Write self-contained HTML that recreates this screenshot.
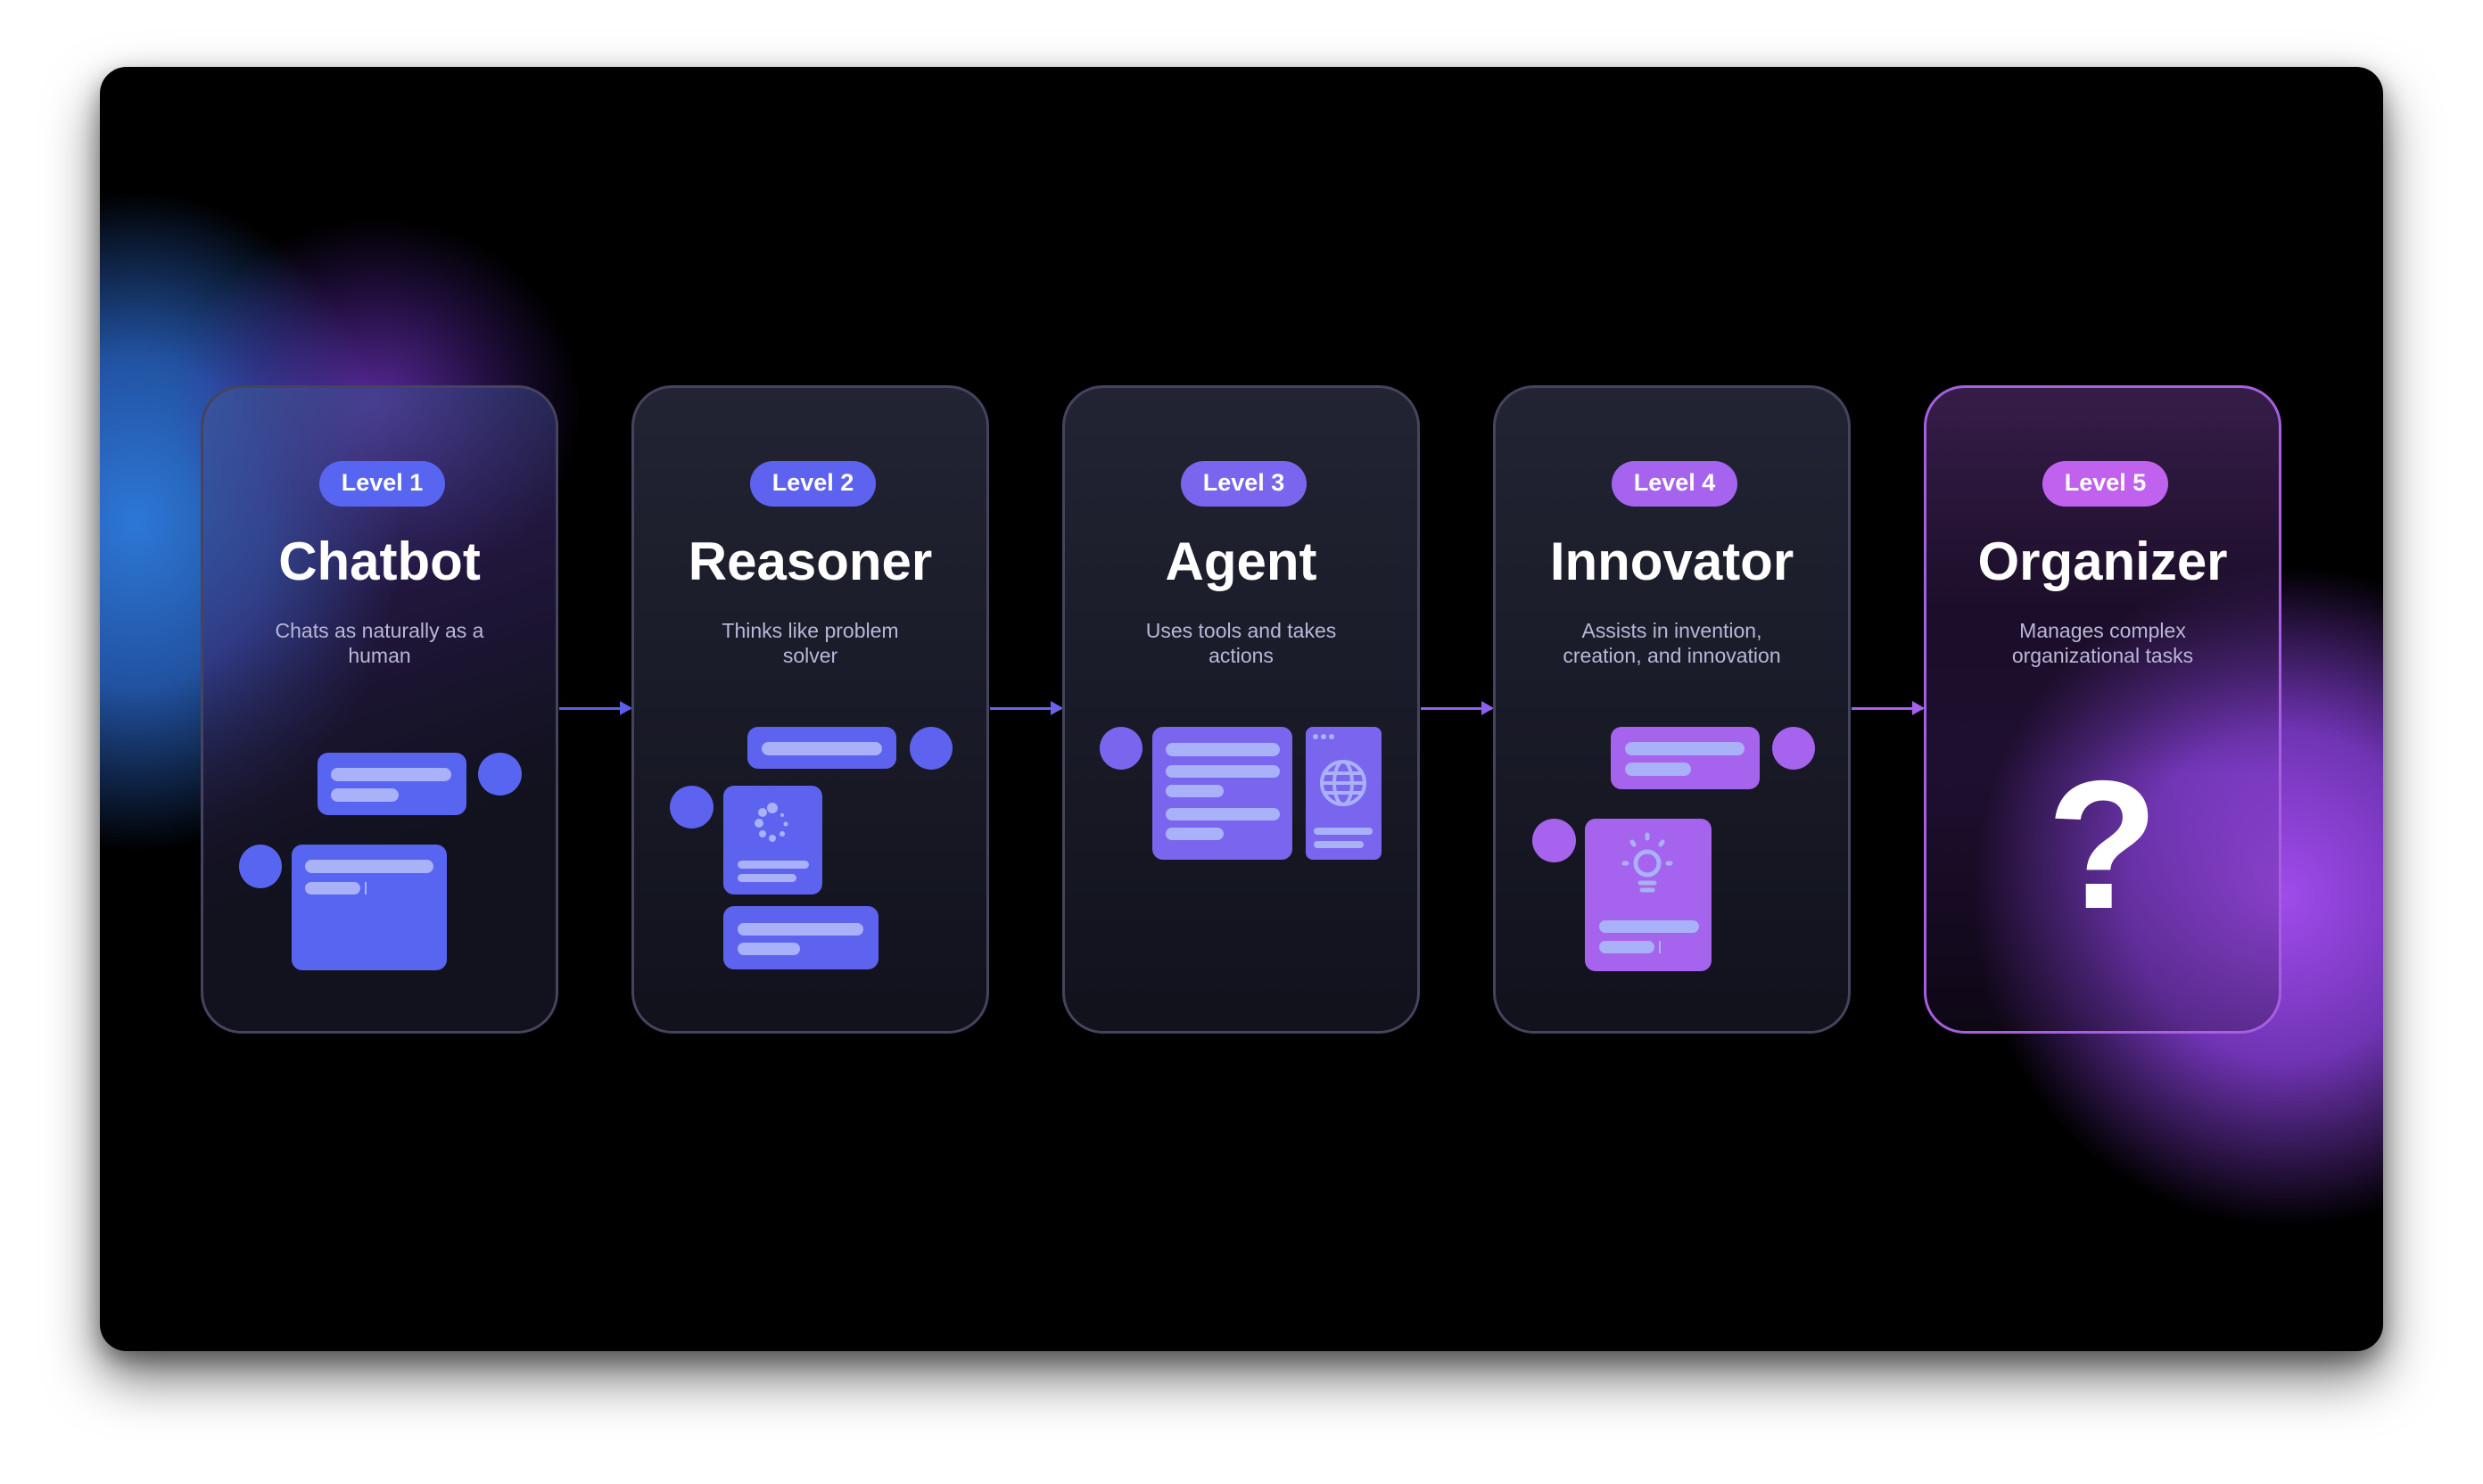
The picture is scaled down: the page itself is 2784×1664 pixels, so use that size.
<!DOCTYPE html>
<html><head><meta charset="utf-8"><style>
*{margin:0;padding:0;box-sizing:border-box}
body{width:2784px;height:1664px;background:#fff;position:relative;overflow:hidden;font-family:"Liberation Sans",sans-serif}
#panel{position:absolute;left:112px;top:75px;width:2560px;height:1440px;background:#000;border-radius:30px;overflow:hidden;box-shadow:0 30px 60px rgba(0,0,0,.55),0 10px 25px rgba(0,0,0,.35)}
.glow{position:absolute;border-radius:50%}
.a{position:absolute}
.card{position:absolute;top:432px;width:401px;height:727px;border-radius:46px;border:3px solid #45435e;background:linear-gradient(180deg,rgba(40,42,60,.85),rgba(18,19,30,.92));}
.pill{position:absolute;top:82px;left:130px;width:141px;height:51px;border-radius:26px;color:#fff;font-weight:bold;font-size:27px;text-align:center;line-height:49px}
.title{position:absolute;top:160px;left:0;width:100%;text-align:center;color:#fff;font-weight:bold;font-size:60px;letter-spacing:0px}
.desc{position:absolute;top:258px;left:0;width:100%;text-align:center;color:#b9b7d8;font-size:23px;line-height:28px}
.arrow{position:absolute;top:793px;height:3px}
.arrow:after{content:"";position:absolute;right:-2px;top:-7px;border-left:14px solid;border-left-color:inherit;border-top:8px solid transparent;border-bottom:8px solid transparent}
.r{position:absolute;border-radius:12px}
.b{position:absolute;background:#a9b1f8;border-radius:8px}
.c{position:absolute;border-radius:50%}
</style></head><body>
<div id="panel">
 <div class="glow" style="left:-260px;top:140px;width:600px;height:740px;background:radial-gradient(closest-side,rgba(45,120,215,1),rgba(45,110,215,.75) 50%,rgba(40,80,200,0) 100%)"></div>
 <div class="glow" style="left:80px;top:170px;width:460px;height:420px;background:radial-gradient(closest-side,rgba(110,50,190,.8),rgba(90,40,170,.35) 60%,rgba(0,0,0,0))"></div>
 <div class="glow" style="left:2100px;top:560px;width:700px;height:740px;background:radial-gradient(closest-side,rgba(160,75,235,1),rgba(140,65,225,.8) 50%,rgba(90,40,170,0) 100%)"></div>
</div>
<div class="arrow" style="left:627px;width:80px;background:#5a5ee8;border-color:#5a5ee8"></div>
<div class="arrow" style="left:1110px;width:80px;background:#6d62ee;border-color:#6d62ee"></div>
<div class="arrow" style="left:1593px;width:80px;background:#8a62ee;border-color:#8a62ee"></div>
<div class="arrow" style="left:2076px;width:80px;background:#a960ee;border-color:#a960ee"></div>

<div class="card" style="left:225px;background:linear-gradient(160deg,rgba(60,90,150,.6),rgba(60,40,110,.55) 35%,rgba(20,20,35,.9) 65%,rgba(18,19,30,.95))">
 <div class="pill" style="background:#5865f0">Level 1</div>
 <div class="title">Chatbot</div>
 <div class="desc">Chats as naturally as a<br>human</div>
</div>
<div class="r" style="left:356px;top:844px;width:167px;height:70px;background:#5865f0"></div>
<div class="b" style="left:371px;top:861px;width:135px;height:15px"></div>
<div class="b" style="left:371px;top:884px;width:76px;height:15px"></div>
<div class="c" style="left:536px;top:844px;width:49px;height:48px;background:#5865f0"></div>
<div class="r" style="left:327px;top:947px;width:174px;height:141px;background:#5865f0"></div>
<div class="b" style="left:342px;top:964px;width:144px;height:15px"></div>
<div class="b" style="left:342px;top:989px;width:62px;height:14px"></div>
<div class="a" style="left:409px;top:989px;width:2px;height:14px;background:#a9b1f8"></div>
<div class="c" style="left:268px;top:947px;width:48px;height:49px;background:#5865f0"></div>

<div class="card" style="left:708px">
 <div class="pill" style="background:#5d63ef">Level 2</div>
 <div class="title">Reasoner</div>
 <div class="desc">Thinks like problem<br>solver</div>
</div>
<div class="r" style="left:838px;top:815px;width:167px;height:47px;background:#5d63ef"></div>
<div class="b" style="left:854px;top:832px;width:135px;height:15px"></div>
<div class="c" style="left:1020px;top:815px;width:48px;height:48px;background:#5d63ef"></div>
<div class="c" style="left:751px;top:881px;width:49px;height:48px;background:#5d63ef"></div>
<div class="r" style="left:811px;top:881px;width:111px;height:122px;background:#5d63ef"></div>
<svg class="a" style="left:836px;top:896px" width="60" height="60" viewBox="0 0 60 60" fill="#a9b1f8">
 <circle cx="30" cy="10" r="6"/><circle cx="19" cy="15" r="5"/><circle cx="15" cy="27" r="5"/><circle cx="19" cy="39" r="4"/><circle cx="30" cy="44" r="4"/><circle cx="41" cy="39" r="3"/><circle cx="45" cy="28" r="2.5"/><circle cx="41" cy="18" r="2"/>
</svg>
<div class="b" style="left:827px;top:965px;width:80px;height:9px;border-radius:5px"></div>
<div class="b" style="left:827px;top:980px;width:66px;height:9px;border-radius:5px"></div>
<div class="r" style="left:811px;top:1016px;width:174px;height:71px;background:#5d63ef"></div>
<div class="b" style="left:827px;top:1035px;width:141px;height:14px"></div>
<div class="b" style="left:827px;top:1057px;width:70px;height:14px"></div>

<div class="card" style="left:1191px">
 <div class="pill" style="background:#7a66ee">Level 3</div>
 <div class="title">Agent</div>
 <div class="desc">Uses tools and takes<br>actions</div>
</div>
<div class="c" style="left:1233px;top:815px;width:48px;height:48px;background:#7a66ee"></div>
<div class="r" style="left:1292px;top:815px;width:157px;height:149px;background:#7a66ee"></div>
<div class="b" style="left:1307px;top:833px;width:128px;height:15px"></div>
<div class="b" style="left:1307px;top:858px;width:128px;height:14px"></div>
<div class="b" style="left:1307px;top:880px;width:65px;height:14px"></div>
<div class="b" style="left:1307px;top:906px;width:128px;height:14px"></div>
<div class="b" style="left:1307px;top:928px;width:65px;height:14px"></div>
<div class="r" style="left:1464px;top:815px;width:85px;height:149px;background:#7a66ee;border-radius:8px"></div>
<div class="c" style="left:1472px;top:823px;width:6px;height:6px;background:#a9b1f8"></div>
<div class="c" style="left:1481px;top:823px;width:6px;height:6px;background:#a9b1f8"></div>
<div class="c" style="left:1490px;top:823px;width:6px;height:6px;background:#a9b1f8"></div>
<svg class="a" style="left:1478px;top:850px" width="56" height="56" viewBox="0 0 56 56" fill="none" stroke="#a9b1f8" stroke-width="4">
 <circle cx="28" cy="28" r="24"/><ellipse cx="28" cy="28" rx="10" ry="24"/><line x1="4" y1="28" x2="52" y2="28"/><line x1="8" y1="17" x2="48" y2="17"/><line x1="8" y1="39" x2="48" y2="39"/>
</svg>
<div class="b" style="left:1473px;top:928px;width:66px;height:8px;border-radius:4px"></div>
<div class="b" style="left:1473px;top:943px;width:56px;height:8px;border-radius:4px"></div>

<div class="card" style="left:1674px">
 <div class="pill" style="background:#a663ee">Level 4</div>
 <div class="title">Innovator</div>
 <div class="desc">Assists in invention,<br>creation, and innovation</div>
</div>
<div class="r" style="left:1806px;top:815px;width:167px;height:70px;background:#a663ee"></div>
<div class="b" style="left:1822px;top:832px;width:134px;height:15px"></div>
<div class="b" style="left:1822px;top:855px;width:74px;height:15px"></div>
<div class="c" style="left:1987px;top:815px;width:48px;height:48px;background:#a663ee"></div>
<div class="c" style="left:1718px;top:918px;width:49px;height:49px;background:#a663ee"></div>
<div class="r" style="left:1777px;top:918px;width:142px;height:171px;background:#a663ee"></div>
<svg class="a" style="left:1815px;top:932px" width="64" height="80" viewBox="0 0 64 80" fill="none" stroke="#a9b1f8" stroke-width="5" stroke-linecap="round">
 <circle cx="32" cy="36" r="13"/><line x1="24" y1="58" x2="40" y2="58"/><line x1="26" y1="66" x2="38" y2="66"/>
 <line x1="32" y1="4" x2="32" y2="8"/><line x1="15" y1="12" x2="17" y2="15"/><line x1="49" y1="12" x2="47" y2="15"/><line x1="6" y1="36" x2="9" y2="36"/><line x1="58" y1="36" x2="55" y2="36"/>
</svg>
<div class="b" style="left:1793px;top:1032px;width:112px;height:14px"></div>
<div class="b" style="left:1793px;top:1055px;width:62px;height:14px"></div>
<div class="a" style="left:1860px;top:1055px;width:2px;height:14px;background:#a9b1f8"></div>

<div class="card" style="left:2157px;border-color:#a55fe0;background:linear-gradient(180deg,rgba(60,32,80,.9),rgba(50,25,75,.55) 35%,rgba(120,60,190,.25) 60%,rgba(40,20,60,.35))">
 <div class="pill" style="background:#c062ee">Level 5</div>
 <div class="title">Organizer</div>
 <div class="desc">Manages complex<br>organizational tasks</div>
 <div class="a" style="left:0;width:100%;top:410px;text-align:center;color:#fff;font-weight:bold;font-size:205px;line-height:205px">?</div>
</div>
</body></html>
